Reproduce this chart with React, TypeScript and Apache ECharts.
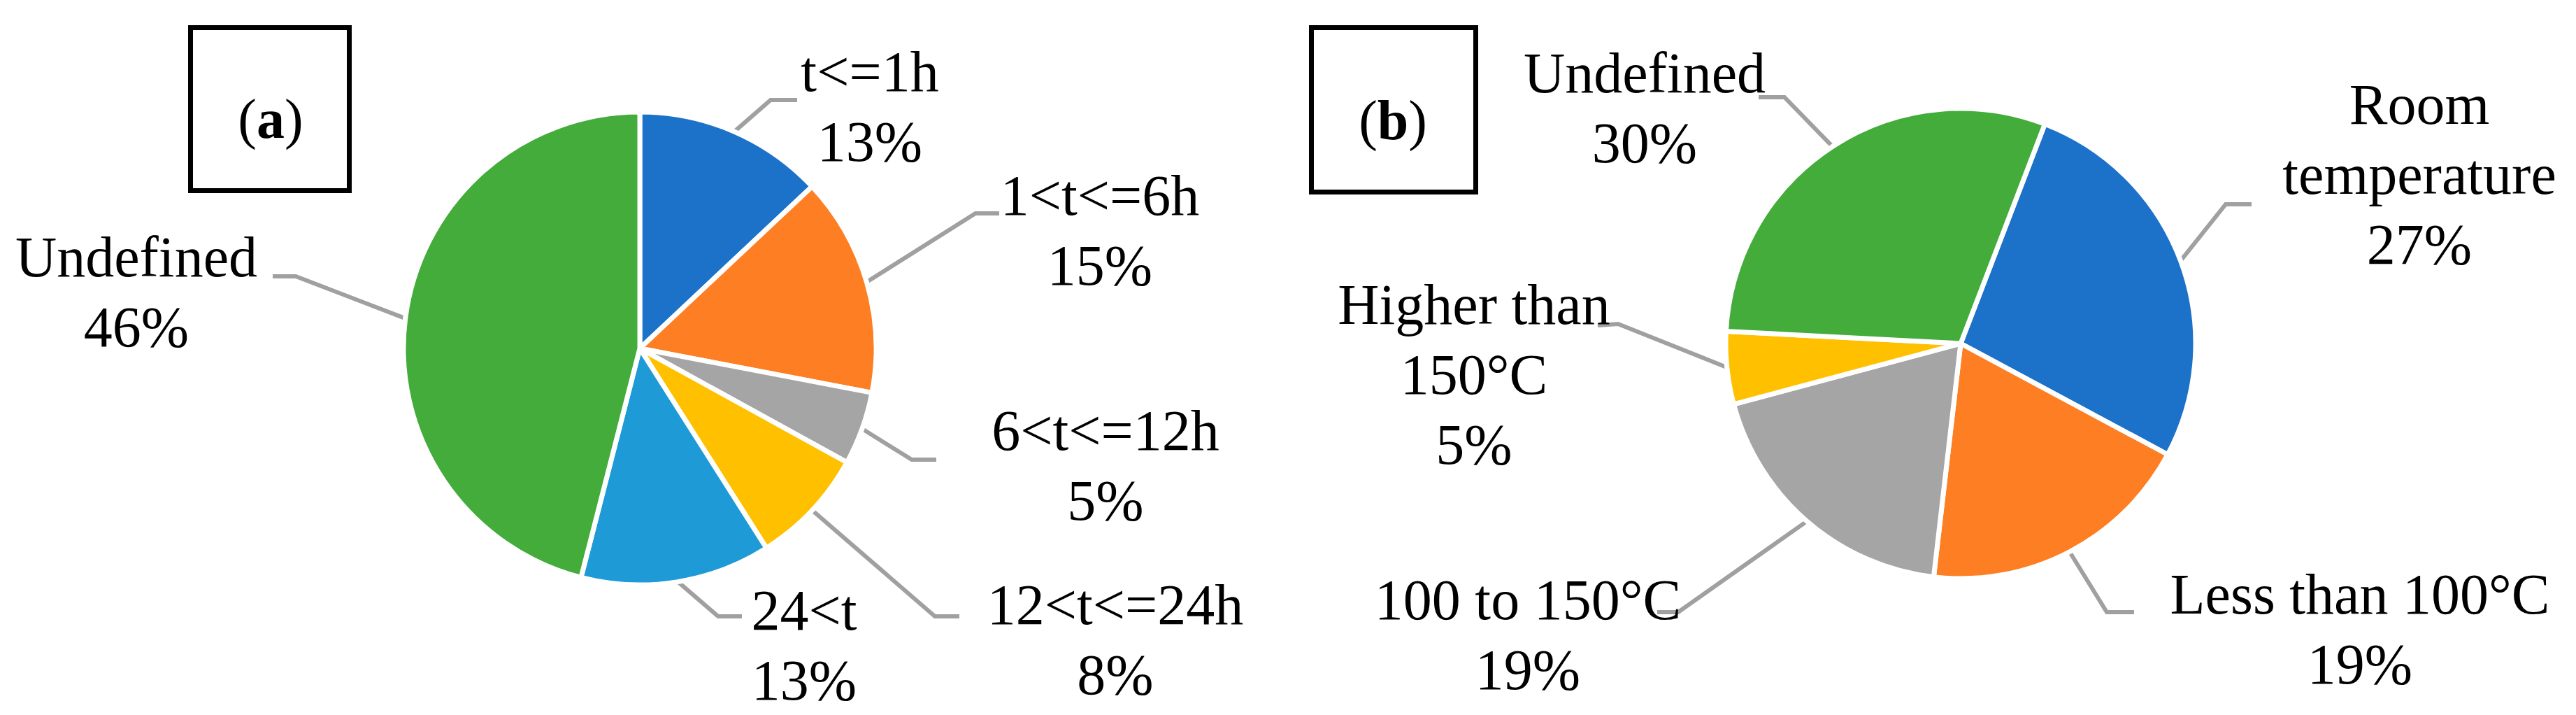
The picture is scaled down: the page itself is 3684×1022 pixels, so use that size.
import React, { useEffect, useRef } from 'react';
import * as echarts from 'echarts';

// ---- data ----
const categoriesA = ['t<=1h', '1<t<=6h', '6<t<=12h', '12<t<=24h', '24<t', 'Undefined'];
const valuesA = [13, 15, 5, 8, 13, 46];
const colorsA = ['#1C71C8', '#FD7E23', '#A5A5A5', '#FFC000', '#1E9BD7', '#43AC3B'];

const categoriesB = ['Room temperature', 'Less than 100°C', '100 to 150°C', 'Higher than 150°C', 'Undefined'];
const valuesB = [27, 19, 19, 5, 30];
const colorsB = ['#1C71C8', '#FD7E23', '#A5A5A5', '#FFC000', '#43AC3B'];

const panelTags = ['a', 'b'];

// ---- layout (positions only) ----
const FONT = 'Liberation Serif';
const TEXT_COLOR = '#000000';
const LINE_COLOR = '#A0A0A0';

const pieA = { cx: 915, cy: 498, r: 338, startAngle: 90 };
const pieB = { cx: 2804, cy: 491, r: 336, startAngle: 69 };

// label anchor (center x, top y) and leader bend / end points
const labelPosA = [
  { x: 1244, y: 52, bend: [1102, 143], end: [1140, 143] },
  { x: 1573, y: 229, bend: [1395, 305], end: [1429, 305] },
  { x: 1581, y: 565, bend: [1304, 657], end: [1339, 657] },
  { x: 1595, y: 814, bend: [1337, 881], end: [1372, 881] },
  { x: 1150, y: 822, bend: [1027, 881], end: [1061, 881] },
  { x: 195, y: 317, bend: [423, 395], end: [390, 395] },
];
const labelPosB = [
  { x: 3460, y: 99, bend: [3183, 292], end: [3220, 292] },
  { x: 3375, y: 799, bend: [3013, 875], end: [3052, 875] },
  { x: 2185, y: 807, bend: [2400, 875], end: [2370, 875] },
  { x: 2108, y: 385, bend: [2314, 463], end: [2285, 465] },
  { x: 2352, y: 54, bend: [2552, 139], end: [2515, 139] },
];

const boxes = [
  { x: 272.5, y: 39.5, w: 227, h: 233, tx: 387, ty: 170 },
  { x: 1875.5, y: 39.5, w: 235, h: 235, tx: 1992, ty: 172 },
];

function arcMid(values: number[], i: number, pie: any, rr: number) {
  const total = values.reduce((a, b) => a + b, 0);
  let cum = 0;
  for (let k = 0; k < i; k++) cum += values[k];
  const startDeg = 90 - pie.startAngle;
  const th = ((startDeg + ((cum + values[i] / 2) / total) * 360) * Math.PI) / 180;
  return [pie.cx + rr * Math.sin(th), pie.cy - rr * Math.cos(th)];
}

function wrapName(name: string) {
  return name.replace(/^(Room|Higher than) /, '$1\n');
}

function makeSeries(cats: string[], vals: number[], cols: string[], pie: any, pos: any[]) {
  return {
    type: 'pie',
    center: [pie.cx, pie.cy],
    radius: pie.r,
    startAngle: pie.startAngle,
    clockwise: true,
    avoidLabelOverlap: false,
    silent: true,
    data: cats.map((n, i) => ({ name: n, value: vals[i], itemStyle: { color: cols[i] } })),
    itemStyle: { borderColor: '#ffffff', borderWidth: 7, borderJoin: 'round' },
    label: {
      show: true,
      position: 'outside',
      formatter: (p: any) => `${wrapName(p.name)}\n${p.value}%`,
      fontFamily: FONT,
      fontSize: 82,
      lineHeight: 100,
      color: TEXT_COLOR,
      align: 'center',
    },
    labelLine: { show: true, length: 20, length2: 20, lineStyle: { color: LINE_COLOR, width: 6 } },
    labelLayout: (params: any) => {
      const i = params.dataIndex;
      const p = pos[i];
      const start = arcMid(vals, i, pie, pie.r - 2);
      return {
        x: p.x,
        y: p.y,
        align: 'center',
        verticalAlign: 'top',
        labelLinePoints: [start, p.bend, p.end],
      };
    },
  };
}

export default function App() {
  const ref = useRef<HTMLDivElement>(null);
  useEffect(() => {
    document.body.style.margin = '0';
    if (!ref.current) return;
    const chart = echarts.init(ref.current, null, { renderer: 'svg' });
    const graphic: any[] = [];
    boxes.forEach((b, i) => {
      graphic.push({
        type: 'rect',
        shape: { x: b.x, y: b.y, width: b.w, height: b.h },
        style: { fill: 'none', stroke: '#000000', lineWidth: 7 },
      });
      graphic.push({
        type: 'text',
        x: b.tx,
        y: b.ty,
        style: {
          text: `{p|(}{t|${panelTags[i]}}{p|)}`,
          align: 'center',
          verticalAlign: 'middle',
          rich: {
            p: { fontFamily: FONT, fontSize: 80, fill: TEXT_COLOR },
            t: { fontFamily: FONT, fontSize: 80, fontWeight: 'bold', fill: TEXT_COLOR },
          },
        },
      });
    });
    chart.setOption({
      animation: false,
      backgroundColor: '#ffffff',
      series: [
        makeSeries(categoriesA, valuesA, colorsA, pieA, labelPosA),
        makeSeries(categoriesB, valuesB, colorsB, pieB, labelPosB),
      ],
      graphic,
    });
    return () => chart.dispose();
  }, []);
  return <div ref={ref} style={{ width: 3684, height: 1022 }} />;
}
